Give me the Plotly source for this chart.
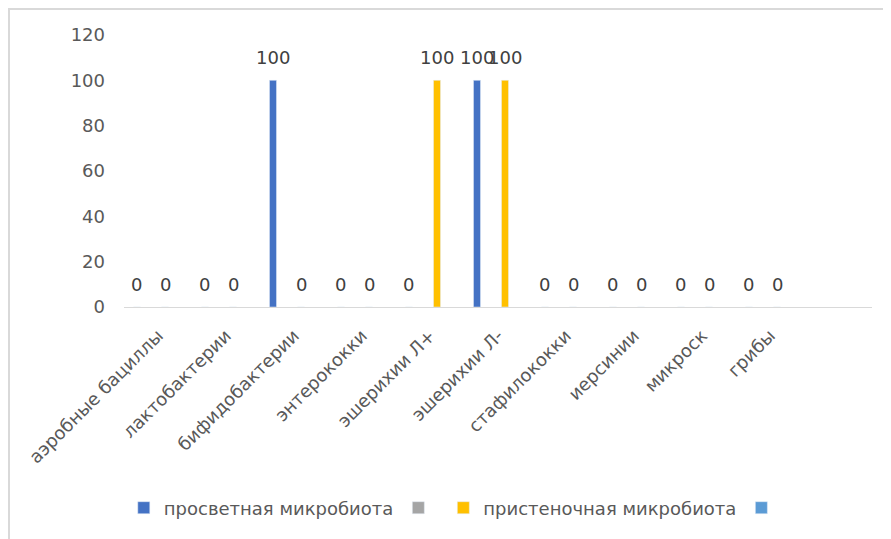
import plotly.graph_objects as go

categories = ["аэробные бациллы", "лактобактерии", "бифидобактерии", "энтерококки",
              "эшерихии Л+", "эшерихии Л-", "стафилококки", "иерсинии", "микроск", "грибы"]
s_lumen = [0, 0, 100, 0, 0, 100, 0, 0, 0, 0]
s_empty1 = [None] * 10
s_wall = [0, 0, 0, 0, 100, 100, 0, 0, 0, 0]
s_empty2 = [None] * 10

names = ["просветная микробиота", "", "пристеночная микробиота", ""]
colors = ["#4472C4", "#A5A5A5", "#FFC000", "#5B9BD5"]
series = [s_lumen, s_empty1, s_wall, s_empty2]

FONT = "DejaVu Sans"
FS = 18
W, H = 891, 539
# page body has an 8px offset; margins compensate for it
ML, MT = 116, 27
PW, PH = 748, 272
MR = W - ML - PW
MB = H - MT - PH
BARGAP = 0.176
n_slots = len(series)
n_cats_axis = len(categories) + 1
cat_px = PW / n_cats_axis
slot_px = cat_px * (1 - BARGAP) / n_slots

fig = go.Figure()
for k, (name, col, vals) in enumerate(zip(names, colors, series)):
    fig.add_trace(go.Bar(x=categories, y=vals, name=name, marker_color=col))
    off = (k - (n_slots - 1) / 2) * slot_px
    for c, v in zip(categories, vals):
        if v is None:
            continue
        fig.add_annotation(x=c, y=v, text=str(v), showarrow=False, xshift=off, yshift=23,
                           font=dict(family=FONT, size=FS, color="#404040"))

fig.update_layout(
    width=W, height=H,
    margin=dict(l=ML, r=MR, t=MT, b=MB),
    paper_bgcolor="white", plot_bgcolor="white",
    barmode="group", bargap=BARGAP, bargroupgap=0.5,
    font=dict(family=FONT, size=FS, color="#595959"),
    showlegend=True,
    legend=dict(orientation="h", xref="container", x=0.502, xanchor="center",
                yref="container", y=(H - 500) / H, yanchor="middle",
                font=dict(family=FONT, size=FS, color="#595959"),
                itemwidth=30, tracegroupgap=0),
)
fig.update_xaxes(range=[-0.5, 10.5], tickangle=-45, showline=True, linecolor="#D9D9D9",
                 linewidth=1, showgrid=False, ticks="", automargin=False,
                 ticklabelstandoff=10,
                 tickfont=dict(family=FONT, size=FS, color="#595959"))
fig.update_yaxes(range=[0, 120], dtick=20, showgrid=False, zeroline=False, showline=False,
                 ticklabelstandoff=18, automargin=False,
                 tickfont=dict(family=FONT, size=FS, color="#595959"))
# chart border
fig.add_shape(type="rect", xref="paper", yref="paper",
              x0=(1 - ML) / PW, x1=(W + 5 - ML) / PW,
              y0=-(H + 5 - (H - MB)) / PH, y1=((H - MB) - 1) / PH,
              line=dict(color="#D9D9D9", width=2), fillcolor="rgba(0,0,0,0)", layer="below")

fig.write_html("out.html")
